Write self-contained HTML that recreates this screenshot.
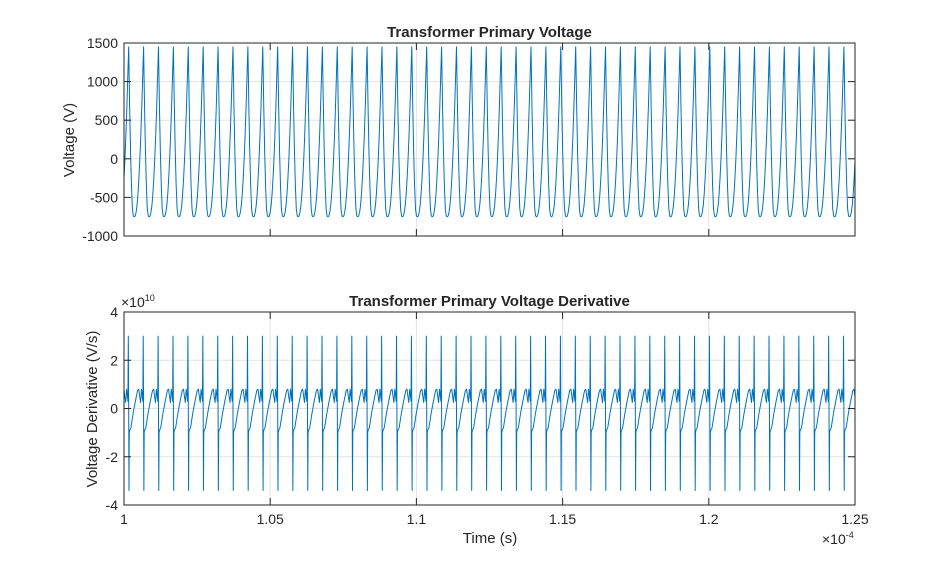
<!DOCTYPE html>
<html><head><meta charset="utf-8"><style>
body{margin:0;background:#fff;}
svg text{font-family:"Liberation Sans",Arial,sans-serif;fill:#262626;}
</style></head><body>
<svg id="fig" width="946" height="569" viewBox="0 0 946 569" xmlns="http://www.w3.org/2000/svg"></svg>
<script>
// ---- data ----
const xTicks = [1, 1.05, 1.1, 1.15, 1.2, 1.25];        // x 1e-4 s
const vTicks = [-1000, -500, 0, 500, 1000, 1500];
const dTicks = [-4, -2, 0, 2, 4];                      // x 1e10
const firstPeak = 1.0016;      // x 1e-4 s
const period = 0.005096;       // x 1e-4 s
const cycles = 50;
// one voltage cycle, phase 0 = peak (V)
const vPhase = [0, 0.0625, 0.125, 0.1875, 0.25, 0.3125, 0.375, 0.4375, 0.5, 0.5625, 0.625, 0.6875, 0.75, 0.8125, 0.875, 0.9375, 1];
const vValue = [1450, 700, 100, -350, -650, -740, -750, -740, -690, -600, -450, -250, 0, 300, 650, 1050, 1450];
// one derivative cycle (x1e10 V/s)
const dPhase = [0, 0.02, 0.04, 0.07, 0.15, 0.3, 0.45, 0.6, 0.68, 0.74, 0.8, 0.86, 0.9, 0.95, 0.975, 1];
const dValue = [0, -3.4, -1.0, -0.9, -0.8, -0.2, 0.3, 0.75, 0.8, 0.5, 0.25, 0.8, 0.6, 0.3, 3.0, 0];

const svg = document.getElementById('fig');
const NS = 'http://www.w3.org/2000/svg';
function mk(tag, attrs, parent){const e=document.createElementNS(NS,tag);for(const k in attrs)e.setAttribute(k,attrs[k]);(parent||svg).appendChild(e);return e;}
const X0=124,X1=855;
const xs = v => X0 + (v-1)/(0.25)*(X1-X0);
let clipId=0;

function axes(name, Y0, Y1, yMin, yMax, yTicks, title, P, V, showX){
  const ys = v => Y1 - (v-yMin)/(yMax-yMin)*(Y1-Y0);
  const g = mk('g',{});
  
  
  mk('rect',{x:X0,y:Y0,width:X1-X0,height:Y1-Y0,fill:'#fff'},g);
  xTicks.forEach(t=>{const x=xs(t);mk('line',{x1:x,x2:x,y1:Y0,y2:Y1,stroke:'#e3e3e3','stroke-width':1},g);});
  yTicks.forEach(t=>{const y=ys(t);mk('line',{x1:X0,x2:X1,y1:y,y2:y,stroke:'#e3e3e3','stroke-width':1},g);});
  const cid='clip'+(clipId++);
  const cp=mk('clipPath',{id:cid},g);
  mk('rect',{x:X0,y:Y0-5,width:X1-X0,height:Y1-Y0+10},cp);
  let pts=[];
  for(let k=-1;k<=cycles+1;k++){
    for(let i=0;i<P.length-1;i++){
      const t=firstPeak+(k+P[i])*period;
      pts.push(xs(t).toFixed(2)+','+ys(V[i]).toFixed(2));
    }
  }
  const line=mk('polyline',{points:pts.join(' '),fill:'none',stroke:'#0072BD','stroke-width':1,'stroke-linejoin':'round','clip-path':'url(#'+cid+')'},g);
  
  
  mk('rect',{x:X0,y:Y0,width:X1-X0,height:Y1-Y0,fill:'none',stroke:'#262626','stroke-width':1},g);
  xTicks.forEach(t=>{const x=xs(t);mk('line',{x1:x,x2:x,y1:Y1,y2:Y1-7,stroke:'#262626'},g);mk('line',{x1:x,x2:x,y1:Y0,y2:Y0+7,stroke:'#262626'},g);
    if(showX){const tx=mk('text',{x:x,y:Y1+19,'text-anchor':'middle','font-size':14},g);tx.textContent=String(t);
      
      }});
  yTicks.forEach(t=>{const y=ys(t);mk('line',{x1:X0,x2:X0+7,y1:y,y2:y,stroke:'#262626'},g);mk('line',{x1:X1,x2:X1-7,y1:y,y2:y,stroke:'#262626'},g);
    const tx=mk('text',{x:X0-6,y:y+5,'text-anchor':'end','font-size':14},g);tx.textContent=String(t);
    
    });
  const ti=mk('text',{x:(X0+X1)/2,y:Y0-6,'text-anchor':'middle','font-size':15,'font-weight':'bold'},g);ti.textContent=title;
  
  
  return g;
}
axes('voltage-axes',43,236,-1000,1500,vTicks,'Transformer Primary Voltage',vPhase,vValue,false);
axes('derivative-axes',312,505,-4,4,dTicks,'Transformer Primary Voltage Derivative',dPhase,dValue,true);

let t;
t=mk('text',{x:0,y:0,'font-size':15,'text-anchor':'middle',transform:'translate(74,140) rotate(-90)'});t.textContent='Voltage (V)';


t=mk('text',{x:0,y:0,'font-size':15,'text-anchor':'middle',transform:'translate(97,409) rotate(-90)'});t.textContent='Voltage Derivative (V/s)';


t=mk('text',{x:490,y:543,'font-size':15,'text-anchor':'middle'});t.textContent='Time (s)';


t=mk('text',{x:822,y:544,'font-size':14});t.innerHTML='×10<tspan dy="-6" font-size="9">-4</tspan>';


t=mk('text',{x:121,y:307,'font-size':14});t.innerHTML='×10<tspan dy="-6" font-size="9">10</tspan>';


</script>
</body></html>
